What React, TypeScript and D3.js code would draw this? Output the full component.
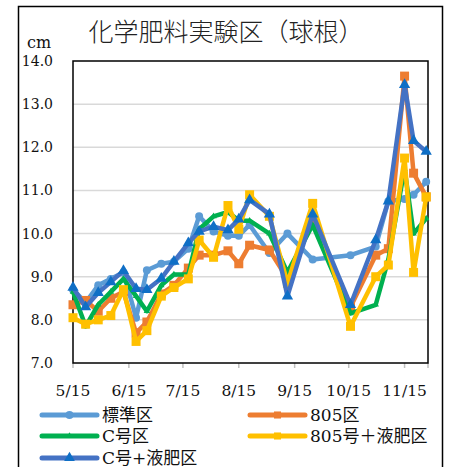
import React from "react";
import * as d3 from "d3";

const dates = ["5/15","5/22","5/29","6/5","6/12","6/19","6/25","7/3","7/10","7/18","7/24","8/1","8/9","8/15","8/21","9/1","9/11","9/25","10/16","10/30","11/6","11/15","11/20","11/27"];

const hyojun = [8.7,8.4,8.8,8.95,9.1,8.05,9.15,9.3,9.35,9.65,10.4,10.05,9.95,9.95,10.2,9.55,10.0,9.4,9.5,9.7,10.75,10.8,10.9,11.2];
const k805 = [8.35,8.45,8.2,8.5,8.65,7.7,7.95,8.6,8.8,9.2,9.5,9.5,9.6,9.3,9.73,9.62,8.95,10.4,8.3,9.5,9.65,13.65,11.4,10.85];
const cgou = [8.65,7.85,8.35,8.65,8.95,8.55,8.2,8.8,9.05,9.05,10.1,10.4,10.5,10.3,10.3,10.0,9.1,10.2,8.15,8.35,9.4,11.5,10.0,10.35];
const k805eki = [8.05,7.9,8.0,8.1,8.7,7.5,7.75,8.55,8.75,8.95,9.85,9.45,10.65,10.1,10.9,10.4,8.85,10.7,7.85,9.0,9.27,11.75,9.1,10.85];
const cgoueki = [8.75,8.3,8.63,8.88,9.14,8.72,8.7,8.96,9.35,9.78,10.05,10.16,10.08,10.33,10.78,10.45,8.55,10.45,8.35,9.85,10.75,13.45,12.15,11.9];

const seriesNames = ["標準区","805区","C号区","805号＋液肥区","C号+液肥区"];
const yTicks = [7,8,9,10,11,12,13,14];
const xTickLabels = ["5/15","6/15","7/15","8/15","9/15","10/15","11/15"];

const YEAR = 2019;
const toDate = (s: string) => {
  const [m, d] = s.split("/").map(Number);
  return new Date(Date.UTC(YEAR, m - 1, d));
};

const series = [
  { name: seriesNames[0], values: hyojun, color: "#5B9BD5", marker: "circle", mcolor: "#5B9BD5", msize: 50 },
  { name: seriesNames[1], values: k805, color: "#ED7D31", marker: "square", mcolor: "#ED7D31", msize: 81 },
  { name: seriesNames[2], values: cgou, color: "#00B050", marker: "triangle", mcolor: "#00B050", msize: 18 },
  { name: seriesNames[3], values: k805eki, color: "#FFC000", marker: "square", mcolor: "#FFC000", msize: 81 },
  { name: seriesNames[4], values: cgoueki, color: "#4472C4", marker: "triangle", mcolor: "#0F6FC6", msize: 55 },
];

const symType = (m: string) =>
  m === "circle" ? d3.symbolCircle : m === "square" ? d3.symbolSquare : d3.symbolTriangle;

export default function App() {
  const W = 455, H = 467;
  const left = 73, right = 428, top = 61, bottom = 363;
  const x = d3.scaleUtc().domain([toDate("5/15"), toDate("11/28")]).range([left, right]);
  const y = d3.scaleLinear().domain([7, 14]).range([bottom, top]);
  const line = d3.line<number>()
    .x((_, i) => x(toDate(dates[i])))
    .y((v) => y(v))
    .curve(d3.curveLinear);

  const serifStyle = { fontFamily: "DejaVu Serif, Liberation Serif, serif" };
  const cjkStyle = { fontFamily: "DejaVu Serif, Noto Sans CJK JP, serif" };

  const legendPos = [
    { lx: 42, ty: 415 },
    { lx: 250, ty: 415 },
    { lx: 42, ty: 436 },
    { lx: 250, ty: 436 },
    { lx: 42, ty: 458 },
  ];

  return (
    <svg width={W} height={H} style={{ position: "absolute", left: 0, top: 0, background: "#fff" }}>
      <rect x={0} y={0} width={W} height={H} fill="#fff" />
      <rect x={18.5} y={6.5} width={424} height={520} fill="none" stroke="#000" strokeWidth={1.5} />
      <text x={226} y={41} textAnchor="middle" style={{ fontFamily: "Noto Sans CJK JP, sans-serif", fontWeight: 300 }} fontSize={25} fill="#222">化学肥料実験区（球根）</text>
      <text x={27} y={48} style={serifStyle} fontSize={16} fill="#111">cm</text>

      {yTicks.map((t) => (
        <g key={t}>
          {t > 7 && t < 14 && (
            <line x1={left} x2={right} y1={y(t)} y2={y(t)} stroke="#D9D9D9" strokeWidth={1.5} />
          )}
          <text x={53} y={y(t) + 5} textAnchor="end" style={serifStyle} fontSize={14} fill="#111">
            {t.toFixed(1)}
          </text>
        </g>
      ))}
      {xTickLabels.map((l) => (
        <g key={l}>
          <line x1={x(toDate(l))} x2={x(toDate(l))} y1={bottom} y2={bottom + 5} stroke="#BFBFBF" strokeWidth={1.5} />
          <text x={x(toDate(l))} y={396} textAnchor="middle" style={serifStyle} fontSize={15.5} fill="#111">{l}</text>
        </g>
      ))}
      <line x1={right} x2={right} y1={bottom} y2={bottom + 5} stroke="#BFBFBF" strokeWidth={1.5} />
      <rect x={left} y={top} width={right - left} height={bottom - top} fill="none" stroke="#000" strokeWidth={1.5} />

      {series.map((s) => (
        <g key={s.name}>
          <path d={line(s.values) || ""} fill="none" stroke={s.color} strokeWidth={4.5} strokeLinejoin="round" strokeLinecap="round" />
          {s.values.map((v, i) => (
            <path
              key={i}
              transform={`translate(${x(toDate(dates[i]))},${y(v)})`}
              d={d3.symbol().type(symType(s.marker)).size(s.msize)() || ""}
              fill={s.mcolor}
            />
          ))}
        </g>
      ))}

      {series.map((s, i) => {
        const p = legendPos[i];
        return (
          <g key={s.name}>
            <line x1={p.lx} x2={p.lx + 55} y1={p.ty} y2={p.ty} stroke={s.color} strokeWidth={5} strokeLinecap="round" />
            <path
              transform={`translate(${p.lx + 27.5},${p.ty})`}
              d={d3.symbol().type(symType(s.marker)).size(Math.min(s.msize, 50))() || ""}
              fill={s.mcolor}
            />
            <text x={p.lx + 60} y={p.ty + 6} style={cjkStyle} fontSize={17} fill="#111">{s.name}</text>
          </g>
        );
      })}
    </svg>
  );
}
